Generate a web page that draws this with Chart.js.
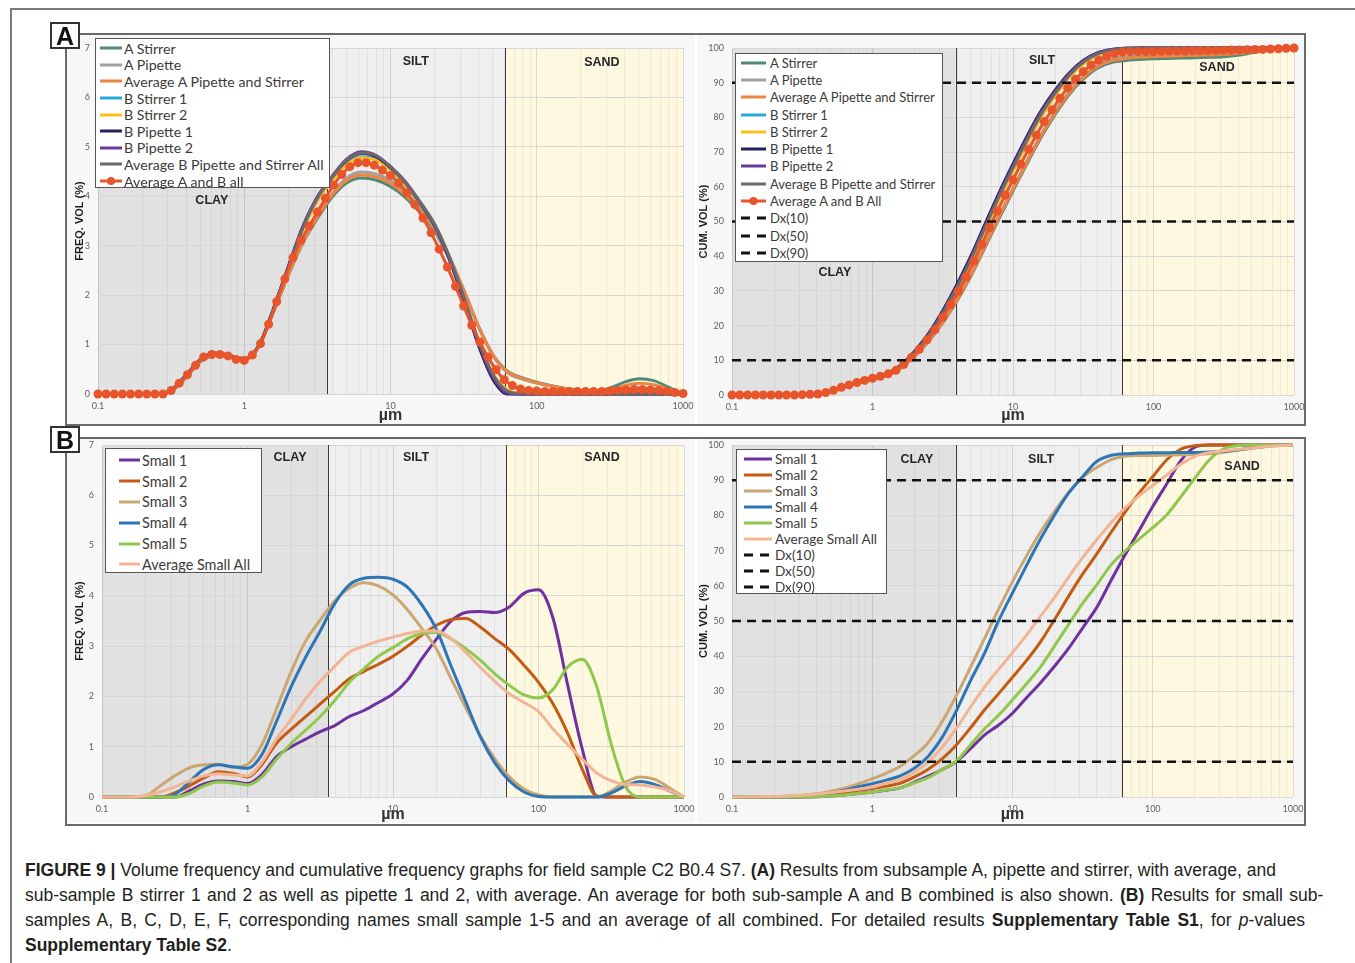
<!DOCTYPE html>
<html>
<head>
<meta charset="UTF-8" />
<title>Figure 9 - grain size distributions</title>
<script src="https://cdn.jsdelivr.net/npm/chart.js"></script>
<style>
  html, body { margin: 0; padding: 0; background: #fff; }
  body { width: 1355px; height: 963px; position: relative; overflow: hidden; font-family: "Liberation Sans", Arial, sans-serif; }
  .frame { position: absolute; left: 10px; top: 8px; width: 1400px; height: 1000px; border-top: 2px solid #7a7a7a; border-left: 2px solid #7a7a7a; }
  .panel { position: absolute; left: 65px; width: 1241px; border: 2px solid #6a6a6a; box-sizing: border-box; }
  #panelA { top: 33px; height: 393px; }
  #panelB { top: 437px; height: 389px; }
  .tag { position: absolute; left: 50px; width: 30px; height: 27px; box-sizing: border-box; background: #fff; border: 2px solid #333;
         font: bold 25px "Liberation Sans", Arial, sans-serif; line-height: 24px; text-align: center; color: #111; z-index: 3; }
  canvas { position: absolute; }
  .legend { position: absolute; background: #fff; border: 1.5px solid #555; box-sizing: border-box; font-family: Lato, sans-serif; color: #3b3b3b; z-index: 2; }
  .legend .item { display: flex; align-items: center; white-space: nowrap; }
  .legend svg { flex: none; }
  #legA1 { left: 95px; top: 38px; width: 235px; height: 150px; padding: 1px 0 0 4px; font-size: 14.2px; }
  #legA1 .item { height: 16.6px; } #legA1 svg { margin-right: 2px; }
  #legA2 { left: 735px; top: 53px; width: 208px; height: 209px; padding: 0 0 0 5px; font-size: 13px; }
  #legA2 .item { height: 17.3px; } #legA2 svg { margin-right: 4px; }
  #legB1 { left: 105px; top: 448px; width: 157px; height: 125px; padding: 1px 0 0 13px; font-size: 14.4px; }
  #legB1 .item { height: 20.8px; } #legB1 svg { margin-right: 2px; }
  #legB2 { left: 736px; top: 449px; width: 151px; height: 145px; padding: 1px 0 0 7px; font-size: 13.6px; }
  #legB2 .item { height: 16px; } #legB2 svg { margin-right: 3px; }
  #caption { position: absolute; left: 25px; top: 858px; font-size: 17.5px; line-height: 25px; color: #231f20; white-space: nowrap; }
</style>
</head>
<body>
<div class="frame"></div>
<div class="panel" id="panelA"></div>
<div class="panel" id="panelB"></div>
<div class="tag" style="top:22px">A</div>
<div class="tag" style="top:426px">B</div>

<canvas id="chartA1" width="628" height="389" style="left:67px; top:35px"></canvas>
<canvas id="chartA2" width="607" height="389" style="left:697px; top:35px"></canvas>
<canvas id="chartB1" width="628" height="384" style="left:67px; top:439px"></canvas>
<canvas id="chartB2" width="607" height="384" style="left:697px; top:439px"></canvas>

<div class="legend" id="legA1"></div>
<div class="legend" id="legA2"></div>
<div class="legend" id="legB1"></div>
<div class="legend" id="legB2"></div>

<div id="caption">
<span><b>FIGURE 9 |</b> Volume frequency and cumulative frequency graphs for field sample C2 B0.4 S7. <b>(A)</b> Results from subsample A, pipette and stirrer, with average, and</span><br>
<span style="word-spacing:1.5px">sub-sample B stirrer 1 and 2 as well as pipette 1 and 2, with average. An average for both sub-sample A and B combined is also shown. <b>(B)</b> Results for small sub-</span><br>
<span style="word-spacing:2.5px">samples A, B, C, D, E, F, corresponding names small sample 1-5 and an average of all combined. For detailed results <b>Supplementary Table S1</b>, for <i>p</i>-values</span><br>
<b>Supplementary Table S2</b>.
</div>

<script>
// particle size classes (µm)
const sizeCoarse = [0.1, 0.126, 0.158, 0.2, 0.251, 0.316, 0.398, 0.501, 0.631, 0.794,
  1, 1.26, 1.58, 2, 2.51, 3.16, 3.98, 5.01, 6.31, 7.94,
  10, 12.6, 15.8, 20, 25.1, 31.6, 39.8, 50.1, 63.1, 79.4,
  100, 126, 158, 200, 251, 316, 398, 501, 631, 794, 1000];
const sizeFine = [0.1, 0.1136, 0.1292, 0.1468, 0.1668, 0.1896, 0.2154, 0.2448, 0.2783, 0.3162, 0.3594, 0.4084, 0.4642, 0.5275, 0.5995, 0.6813, 0.7743, 0.8799,
  1, 1.136, 1.292, 1.468, 1.668, 1.896, 2.154, 2.448, 2.783, 3.162, 3.594, 4.084, 4.642, 5.275, 5.995, 6.813, 7.743, 8.799,
  10, 11.36, 12.92, 14.68, 16.68, 18.96, 21.54, 24.48, 27.83, 31.62, 35.94, 40.84, 46.42, 52.75, 59.95, 68.13, 77.43, 87.99,
  100, 113.6, 129.2, 146.8, 166.8, 189.6, 215.4, 244.8, 278.3, 316.2, 359.4, 408.4, 464.2, 527.5, 599.5, 681.3, 774.3, 879.9,
  1000];
const xTickLabels = ['0.1', '1', '10', '100', '1000'];
const dxLevels = [10, 50, 90];

// A - frequency (%)
const aStirrerF   = [0,0,0,0,0, 0.06,0.33,0.65,0.78,0.76, 0.72,0.98,1.65,2.40,3.05, 3.55,3.98,4.27,4.37,4.33, 4.20,3.98,3.68,3.30,2.75, 2.10,1.38,0.80,0.46,0.33, 0.24,0.17,0.11,0.07,0.06, 0.12,0.24,0.31,0.27,0.14, 0];
const aPipetteF   = [0,0,0,0,0, 0.06,0.33,0.66,0.79,0.76, 0.71,0.98,1.66,2.42,3.08, 3.60,4.05,4.37,4.49,4.45, 4.32,4.08,3.76,3.36,2.80, 2.12,1.38,0.78,0.43,0.30, 0.22,0.15,0.10,0.07,0.05, 0.06,0.10,0.12,0.10,0.05, 0];
const avgAF       = [0,0,0,0,0, 0.06,0.33,0.66,0.79,0.76, 0.72,0.98,1.66,2.41,3.07, 3.58,4.02,4.32,4.43,4.39, 4.26,4.03,3.72,3.33,2.78, 2.11,1.38,0.79,0.45,0.32, 0.23,0.16,0.11,0.07,0.06, 0.09,0.17,0.22,0.19,0.10, 0];
const bStirrer1F  = [0,0,0,0,0, 0.07,0.36,0.69,0.82,0.78, 0.70,0.97,1.70,2.54,3.32, 3.92,4.33,4.66,4.80,4.74, 4.54,4.22,3.84,3.38,2.74, 1.92,1.05,0.38,0.05,0, 0,0,0,0,0, 0,0,0,0,0, 0];
const bStirrer2F  = [0,0,0,0,0, 0.07,0.35,0.68,0.81,0.77, 0.69,0.96,1.69,2.52,3.30, 3.90,4.31,4.64,4.78,4.73, 4.54,4.23,3.86,3.40,2.76, 1.95,1.08,0.42,0.08,0.01, 0,0,0,0,0, 0,0,0,0,0, 0];
const bPipette1F  = [0,0,0,0,0, 0.08,0.38,0.70,0.83,0.78, 0.70,0.98,1.72,2.58,3.38, 3.98,4.38,4.72,4.87,4.80, 4.58,4.28,3.88,3.41,2.75, 1.90,1.00,0.30,0,0, 0,0,0,0,0, 0,0,0,0,0, 0];
const bPipette2F  = [0,0,0,0,0, 0.07,0.36,0.68,0.82,0.78, 0.70,0.97,1.70,2.56,3.37, 3.98,4.40,4.75,4.90,4.83, 4.60,4.30,3.90,3.43,2.78, 1.95,1.05,0.35,0.02,0, 0,0,0,0,0, 0,0,0,0,0, 0];
const avgBF       = [0,0,0,0,0, 0.07,0.36,0.69,0.82,0.78, 0.70,0.97,1.70,2.55,3.35, 3.96,4.38,4.73,4.88,4.82, 4.60,4.28,3.90,3.44,2.80, 1.98,1.10,0.40,0.06,0.01, 0,0,0,0,0, 0,0,0,0,0, 0];
const avgAllF = [0,0,0,0,0,0,0,0,0, 0.07,0.22,0.39,0.58,0.75,0.80,0.80,0.77,0.70,
  0.68,0.79,1.02,1.41,1.87,2.33,2.76,3.11,3.40, 3.68,3.96,4.23,4.44,4.60,4.68,4.68,4.63,4.53,
  4.42,4.27,4.07,3.83,3.56,3.26,2.93,2.57,2.18, 1.78,1.39,1.05,0.75,0.49,0.29,0.17,0.10,0.07,
  0.06,0.05,0.05,0.05,0.05,0.05,0.05,0.05,0.05, 0.06,0.07,0.08,0.09,0.09,0.08,0.07,0.05,0.03, 0.01];

// A - cumulative (%)
const aStirrerC   = [0,0,0,0,0, 0.1,0.3,1.0,2.3,3.5, 4.6,5.6,7.6,11.2,15.5, 20.8,27.0,34.2,42.5,50.8, 58.8,66.7,74.1,80.9,86.6, 91.0,94.2,95.8,96.4,96.7, 96.9,97.0,97.1,97.2,97.3, 97.5,97.9,98.6,99.3,99.8, 100];
const aPipetteC   = [0,0,0,0,0, 0.1,0.3,1.0,2.3,3.5, 4.6,5.6,7.7,11.4,15.8, 21.2,27.5,34.8,43.2,51.6, 59.6,67.6,75.0,81.8,87.4, 91.8,95.0,96.8,97.5,97.9, 98.1,98.3,98.4,98.5,98.6, 98.7,98.9,99.2,99.5,99.8, 100];
const avgAC       = [0,0,0,0,0, 0.1,0.3,1.0,2.3,3.5, 4.6,5.6,7.65,11.3,15.65, 21.0,27.25,34.5,42.85,51.2, 59.2,67.15,74.55,81.35,87.0, 91.4,94.6,96.3,96.95,97.3, 97.5,97.65,97.75,97.85,97.95, 98.1,98.4,98.9,99.4,99.8, 100];
const bStirrer1C  = [0,0,0,0,0, 0.1,0.3,1.1,2.5,3.8, 4.9,5.9,8.1,12.1,17.0, 23.2,30.5,38.6,47.6,56.6, 65.0,73.0,80.3,86.6,91.8, 95.6,98.0,99.3,99.8,100, 100,100,100,100,100, 100,100,100,100,100, 100];
const bStirrer2C  = [0,0,0,0,0, 0.1,0.3,1.1,2.4,3.7, 4.8,5.8,8.0,11.9,16.7, 22.8,30.0,38.0,47.0,56.0, 64.4,72.4,79.8,86.2,91.5, 95.4,97.9,99.2,99.8,100, 100,100,100,100,100, 100,100,100,100,100, 100];
const bPipette1C  = [0,0,0,0,0, 0.1,0.35,1.2,2.6,3.9, 5.0,6.1,8.5,12.7,17.8, 24.3,31.8,40.0,49.2,58.2, 66.6,74.6,81.8,87.9,92.8, 96.4,98.6,99.6,99.95,100, 100,100,100,100,100, 100,100,100,100,100, 100];
const bPipette2C  = [0,0,0,0,0, 0.1,0.3,1.1,2.5,3.8, 4.9,6.0,8.3,12.4,17.4, 23.8,31.2,39.3,48.5,57.5, 66.0,74.0,81.3,87.5,92.5, 96.2,98.5,99.5,99.9,100, 100,100,100,100,100, 100,100,100,100,100, 100];
const avgBC       = [0,0,0,0,0, 0.1,0.32,1.12,2.52,3.82, 4.9,5.95,8.2,12.3,17.2, 23.5,30.9,39.0,48.1,57.1, 65.5,73.5,80.8,87.0,92.1, 95.9,98.2,99.4,99.85,100, 100,100,100,100,100, 100,100,100,100,100, 100];
const avgAllC = [0,0,0,0,0,0,0,0,0, 0.1,0.2,0.3,0.7,1.35,2.2,2.9,3.6,4.2,
  4.8,5.4,6.1,7.1,8.8,10.9,13.2,15.9,18.8, 22.4,26.0,29.9,34.0,38.6,43.4,48.2,53.0,57.6,
  62.0,66.5,70.8,74.9,78.8,82.2,85.5,88.5,91.0, 93.2,95.1,96.5,97.6,98.4,98.8,98.95,99.0,99.0,
  99.0,99.05,99.1,99.1,99.15,99.2,99.2,99.25,99.3, 99.35,99.4,99.45,99.5,99.55,99.6,99.7,99.8,99.9, 100];

// B - frequency (%)
const small1F   = [0,0,0,0,0, 0,0.12,0.26,0.32,0.31, 0.27,0.45,0.8,1.0,1.15, 1.3,1.42,1.6,1.72,1.88, 2.05,2.33,2.75,3.15,3.5, 3.67,3.69,3.67,3.78,4.05, 4.12,3.55,2.25,0.95,0.02, 0,0,0,0,0, 0];
const small2F   = [0,0,0,0,0, 0.08,0.22,0.38,0.5,0.47, 0.4,0.65,1.07,1.35,1.6, 1.85,2.1,2.35,2.5,2.64, 2.8,3.0,3.22,3.42,3.53, 3.55,3.38,3.15,2.93,2.62, 2.28,1.85,1.28,0.55,0.02, 0,0,0,0,0, 0];
const small3F   = [0,0,0,0.03,0.22, 0.42,0.58,0.64,0.65,0.59, 0.65,1.05,1.75,2.5,3.1, 3.52,3.9,4.15,4.26,4.2, 4.02,3.72,3.35,2.93,2.35, 1.78,1.22,0.76,0.4,0.16, 0.04,0,0,0,0, 0.12,0.3,0.4,0.35,0.18, 0];
const small4F   = [0,0,0,0,0, 0.05,0.3,0.55,0.64,0.6, 0.57,0.85,1.5,2.2,2.78, 3.3,3.85,4.22,4.35,4.37, 4.33,4.17,3.82,3.32,2.6, 1.9,1.2,0.68,0.32,0.1, 0.01,0,0,0,0, 0.08,0.22,0.31,0.25,0.12, 0];
const small5F   = [0,0,0,0,0, 0,0.07,0.22,0.3,0.28, 0.24,0.4,0.75,1.07,1.33, 1.6,1.92,2.28,2.55,2.8, 2.97,3.15,3.25,3.27,3.14, 2.95,2.72,2.45,2.22,2.03, 1.97,2.14,2.58,2.74,2.2, 1.05,0.2,0,0,0, 0];
const avgSmallF = [0,0,0,0.03,0.1, 0.2,0.32,0.42,0.46,0.44, 0.42,0.7,1.15,1.55,1.95, 2.3,2.6,2.88,3.0,3.1, 3.18,3.25,3.3,3.3,3.15, 2.88,2.58,2.3,2.05,1.88, 1.7,1.35,1.05,0.75,0.48, 0.32,0.25,0.24,0.2,0.13, 0];

// B - cumulative (%)
const small1C   = [0,0,0,0,0, 0,0.1,0.3,0.6,1.0, 1.4,1.9,2.6,4.2,5.9, 7.8,10.1,13.7,17.6,20.4, 23.8,28.2,32.4,37.2,42.2, 48.0,53.8,61.3,68.6,75.5, 82.5,89.0,95.5,99.4,100, 100,100,100,100,100, 100];
const small2C   = [0,0,0,0,0, 0.1,0.3,0.7,1.3,1.9, 2.4,3.1,3.9,5.7,7.9, 10.9,14.8,19.6,24.7,29.3, 34.0,38.8,44.0,50.5,57.0, 63.3,69.0,75.0,80.8,86.2, 91.0,95.8,98.8,99.8,100, 100,100,100,100,100, 100];
const small3C   = [0,0,0,0.1,0.3, 0.5,0.9,1.6,2.5,3.7, 5.2,6.8,8.7,11.8,15.5, 21.5,28.8,36.8,45.0,53.3, 61.2,68.5,75.2,81.2,86.5, 90.8,93.6,95.8,96.8,97.0, 97.0,97.1,97.2,97.3,97.5, 97.9,98.5,99.1,99.6,99.9, 100];
const small4C   = [0,0,0,0,0, 0.1,0.4,1.1,1.9,2.9, 3.8,4.8,6.0,8.2,11.6, 17.0,24.5,33.0,40.8,50.0, 58.0,65.8,73.2,80.2,86.3, 91.0,95.3,97.0,97.5,97.7, 97.8,97.8,97.9,97.9,98.0, 98.2,98.6,99.1,99.6,99.9, 100];
const small5C   = [0,0,0,0,0, 0,0.1,0.3,0.6,1.0, 1.4,2.0,2.6,4.0,5.5, 7.8,10.2,14.8,19.3,23.2, 27.6,32.2,36.9,43.0,49.0, 55.0,60.2,65.8,69.8,73.2, 76.5,80.2,85.2,90.6,95.6, 98.8,99.8,100,100,100, 100];
const avgSmallC = [0,0.05,0.1,0.15,0.3, 0.5,0.8,1.2,1.7,2.2, 2.8,3.9,4.9,7.0,10.0, 14.2,19.5,25.5,31.2,36.2, 41.0,46.0,51.3,56.8,62.4, 68.0,73.0,77.8,82.0,85.5, 88.5,91.5,94.5,96.8,97.8, 98.3,98.7,99.1,99.5,99.8, 100];

// clay / silt / sand bands and their labels (x in µm, y in axis units)
const zonesA1 = { clay: 3.7, sand: 61, labels: [['CLAY', 0.6, 3.92], ['SILT', 14.9, 6.72], ['SAND', 279, 6.7]] };
const zonesA2 = { clay: 3.9, sand: 60, labels: [['CLAY', 0.54, 35.2], ['SILT', 16.1, 96.3], ['SAND', 283, 94.5]] };
const zonesB1 = { clay: 3.6, sand: 60, labels: [['CLAY', 1.96, 6.76], ['SILT', 14.4, 6.76], ['SAND', 273, 6.76]] };
const zonesB2 = { clay: 3.95, sand: 60, labels: [['CLAY', 2.08, 96], ['SILT', 16, 96], ['SAND', 433, 93.75]] };

const xGridTicks = [];
[0.1, 1, 10, 100].forEach(d => { for (let m = 1; m < 10; m++) xGridTicks.push(d * m); });
xGridTicks.push(1000);
const isDecade = v => Math.abs(Math.log10(v) - Math.round(Math.log10(v))) < 1e-6;

const zonesPlugin = {
  id: 'zones',
  beforeDraw(chart, args, o) {
    const { ctx, chartArea: a, scales: { x } } = chart;
    const xc = x.getPixelForValue(o.clay), xs = x.getPixelForValue(o.sand);
    ctx.save();
    ctx.fillStyle = '#f7f7f7';
    ctx.fillRect(0, 0, chart.width, chart.height);
    ctx.fillStyle = '#e1e1e1';
    ctx.fillRect(a.left, a.top, xc - a.left, a.height);
    ctx.fillStyle = '#efefef';
    ctx.fillRect(xc, a.top, xs - xc, a.height);
    ctx.fillStyle = '#fdf8df';
    ctx.fillRect(xs, a.top, a.right - xs, a.height);
    ctx.restore();
  },
  beforeDatasetsDraw(chart, args, o) {
    const { ctx, chartArea: a, scales: { x, y } } = chart;
    ctx.save();
    ctx.strokeStyle = '#3a3a3a';
    ctx.lineWidth = 1;
    [o.clay, o.sand].forEach(v => {
      const px = Math.round(x.getPixelForValue(v)) + 0.5;
      ctx.beginPath(); ctx.moveTo(px, a.top); ctx.lineTo(px, a.bottom); ctx.stroke();
    });
    ctx.fillStyle = '#262626';
    ctx.font = 'bold 12.5px "Liberation Sans", Arial, sans-serif';
    ctx.textAlign = 'center';
    ctx.textBaseline = 'middle';
    o.labels.forEach(([t, xv, yv]) => ctx.fillText(t, x.getPixelForValue(xv), y.getPixelForValue(yv)));
    ctx.restore();
  }
};

function buildLegend(id, series) {
  const el = document.getElementById(id);
  const w = { legA1: 22, legA2: 25, legB1: 21, legB2: 28 }[id];
  series.forEach(s => {
    let svg = `<svg width="${w}" height="10"><line x1="0" y1="5" x2="${w}" y2="5" stroke="${s.color}" stroke-width="3"` +
      (s.dash ? ' stroke-dasharray="9 7"' : '') + '/>';
    if (s.marker) svg += `<circle cx="${w / 2}" cy="5" r="4" fill="${s.color}"/>`;
    svg += '</svg>';
    const row = document.createElement('div');
    row.className = 'item';
    row.innerHTML = svg + '<span>' + s.label + '</span>';
    el.appendChild(row);
  });
}

function makeChart(canvasId, legendId, cfg) {
  const n = cfg.series.length;
  const datasets = cfg.series.map((s, i) => {
    const xs = s.fine ? sizeFine : sizeCoarse;
    const data = s.dash ? [{ x: 0.1, y: s.level }, { x: 1000, y: s.level }] : s.data.map((v, k) => ({ x: xs[k], y: v }));
    return {
      label: s.label, data,
      borderColor: s.color, backgroundColor: s.color,
      borderWidth: s.dash ? 2.6 : 3,
      borderDash: s.dash ? [9, 6] : [],
      pointRadius: s.marker ? 4.5 : 0,
      pointBorderWidth: 0,
      cubicInterpolationMode: 'monotone',
      clip: s.marker ? 6 : 2,
      order: n - i
    };
  });
  buildLegend(legendId, cfg.series);
  return new Chart(document.getElementById(canvasId), {
    type: 'line',
    data: { datasets },
    plugins: [zonesPlugin],
    options: {
      responsive: false,
      animation: false,
      layout: { padding: cfg.pad },
      plugins: { legend: { display: false }, tooltip: { enabled: false }, zones: cfg.zones },
      scales: {
        x: {
          type: 'logarithmic', min: 0.1, max: 1000,
          afterBuildTicks: s => { s.ticks = xGridTicks.map(v => ({ value: v })); },
          afterFit: s => { s.height = cfg.xHeight; s.paddingLeft = 0; s.paddingRight = 0; },
          ticks: {
            autoSkip: false, maxRotation: 0, padding: 7, color: '#5f5f5f',
            font: { family: 'Lato', size: 9 },
            callback: v => xTickLabels.find(t => Math.abs(Number(t) - v) < 1e-9) || ''
          },
          grid: { drawTicks: false, color: c => isDecade(c.tick.value) ? 'rgba(0,0,0,0.12)' : 'rgba(0,0,0,0.055)' },
          border: { display: false },
          title: { display: true, text: 'µm', padding: 0, color: '#333',
                   font: { family: 'Liberation Sans', size: 16, weight: 'bold', lineHeight: 1 } }
        },
        y: {
          min: 0, max: cfg.yMax,
          afterFit: s => { s.width = cfg.yWidth; s.paddingTop = 0; s.paddingBottom = 0; },
          ticks: { stepSize: cfg.yStep, padding: 8, color: '#5f5f5f', font: { family: 'Lato', size: 9 } },
          grid: { drawTicks: false, color: '#d6d6d6' },
          border: { display: false },
          title: { display: true, text: cfg.yTitle, padding: 0, color: '#1c1c1c',
                   font: { family: 'Liberation Sans', size: 11, weight: 'bold', lineHeight: 1.2 } }
        }
      }
    }
  });
}

const dxSeries = dxLevels.map(l => ({ label: 'Dx(' + l + ')', color: '#111', dash: true, level: l }));

makeChart('chartA1', 'legA1', {
  zones: zonesA1, yMax: 7, yStep: 1, yTitle: 'FREQ. VOL (%)',
  pad: { left: 6, right: 12, top: 13, bottom: 0 }, yWidth: 25, xHeight: 30,
  series: [
    { label: 'A Stirrer', color: '#4f8a79', data: aStirrerF },
    { label: 'A Pipette', color: '#a59f9d', data: aPipetteF },
    { label: 'Average A Pipette and Stirrer', color: '#ec8445', data: avgAF },
    { label: 'B Stirrer 1', color: '#2aa9e0', data: bStirrer1F },
    { label: 'B Stirrer 2', color: '#fbbf1a', data: bStirrer2F },
    { label: 'B Pipette 1', color: '#23225e', data: bPipette1F },
    { label: 'B Pipette 2', color: '#6b3a9c', data: bPipette2F },
    { label: 'Average B Pipette and Stirrer All', color: '#6e696a', data: avgBF },
    { label: 'Average A and B all', color: '#e8552b', data: avgAllF, fine: true, marker: true }
  ]
});

makeChart('chartA2', 'legA2', {
  zones: zonesA2, yMax: 100, yStep: 10, yTitle: 'CUM. VOL (%)',
  pad: { left: 0, right: 10, top: 13, bottom: 0 }, yWidth: 35, xHeight: 29,
  series: [
    { label: 'A Stirrer', color: '#4f8a79', data: aStirrerC },
    { label: 'A Pipette', color: '#a59f9d', data: aPipetteC },
    { label: 'Average A Pipette and Stirrer', color: '#ec8445', data: avgAC },
    { label: 'B Stirrer 1', color: '#2aa9e0', data: bStirrer1C },
    { label: 'B Stirrer 2', color: '#fbbf1a', data: bStirrer2C },
    { label: 'B Pipette 1', color: '#23225e', data: bPipette1C },
    { label: 'B Pipette 2', color: '#6b3a9c', data: bPipette2C },
    { label: 'Average B Pipette and Stirrer', color: '#6e696a', data: avgBC },
    { label: 'Average A and B All', color: '#e8552b', data: avgAllC, fine: true, marker: true }
  ].concat(dxSeries)
});

makeChart('chartB1', 'legB1', {
  zones: zonesB1, yMax: 7, yStep: 1, yTitle: 'FREQ. VOL (%)',
  pad: { left: 6, right: 11, top: 6, bottom: 0 }, yWidth: 29, xHeight: 26,
  series: [
    { label: 'Small 1', color: '#7030a0', data: small1F },
    { label: 'Small 2', color: '#c55a11', data: small2F },
    { label: 'Small 3', color: '#caa772', data: small3F },
    { label: 'Small 4', color: '#2e75b6', data: small4F },
    { label: 'Small 5', color: '#8fc84a', data: small5F },
    { label: 'Average Small All', color: '#f3b496', data: avgSmallF }
  ]
});

makeChart('chartB2', 'legB2', {
  zones: zonesB2, yMax: 100, yStep: 10, yTitle: 'CUM. VOL (%)',
  pad: { left: 0, right: 11, top: 6, bottom: 0 }, yWidth: 35, xHeight: 26,
  series: [
    { label: 'Small 1', color: '#7030a0', data: small1C },
    { label: 'Small 2', color: '#c55a11', data: small2C },
    { label: 'Small 3', color: '#caa772', data: small3C },
    { label: 'Small 4', color: '#2e75b6', data: small4C },
    { label: 'Small 5', color: '#8fc84a', data: small5C },
    { label: 'Average Small All', color: '#f3b496', data: avgSmallC }
  ].concat(dxSeries)
});
</script>
</body>
</html>
